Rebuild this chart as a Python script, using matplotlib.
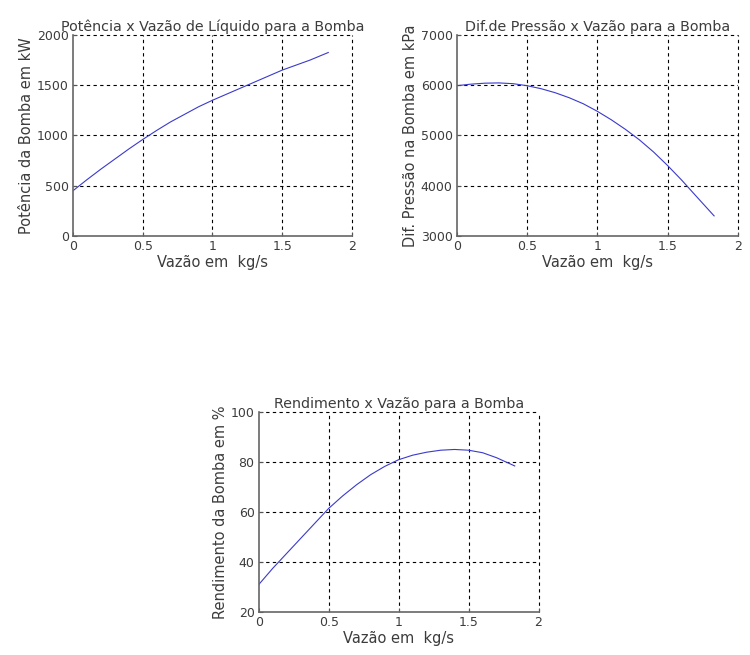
import matplotlib.pyplot as plt

plt.rcParams['font.family'] = ['DejaVu Sans']
plt.rcParams['font.size'] = 9
plt.rcParams['text.color'] = '#3c3c3c'
plt.rcParams['axes.labelcolor'] = '#3c3c3c'
plt.rcParams['xtick.labelcolor'] = '#3c3c3c'
plt.rcParams['ytick.labelcolor'] = '#3c3c3c'

# vazao (kg/s) e curvas da bomba
vazao = [0.0, 0.1, 0.2, 0.3, 0.4, 0.5, 0.6, 0.7, 0.8, 0.9, 1.0, 1.1, 1.2,
         1.3, 1.4, 1.5, 1.6, 1.7, 1.83]
potencia = [450, 560, 665, 765, 865, 960, 1050, 1135, 1210, 1285, 1350, 1410,
            1470, 1530, 1590, 1650, 1700, 1750, 1825]
dif_pressao = [5990, 6020, 6040, 6045, 6030, 5990, 5930, 5850, 5750, 5630,
               5480, 5310, 5120, 4910, 4670, 4400, 4110, 3800, 3400]
rendimento = [31, 37.5, 43.5, 49.5, 55.5, 61.5, 66.5, 71, 75, 78.3, 81,
              82.8, 84, 84.8, 85.1, 84.8, 83.8, 81.8, 78.5]

xticks = [0, 0.5, 1, 1.5, 2]

fig = plt.figure(figsize=(7.5, 6.55), dpi=100)

def painel(pos, y, titulo, ylabel, ylim, yticks):
    ax = fig.add_axes(pos)
    ax.plot(vazao, y, color='#3a3acc', lw=0.8)
    ax.set_xlim(0, 2)
    ax.set_ylim(*ylim)
    ax.set_xticks(xticks)
    ax.set_xticklabels(['0', '0.5', '1', '1.5', '2'])
    ax.set_yticks(yticks)
    ax.grid(True, color='black', linestyle=(0, (3, 3)), lw=0.8)
    ax.set_axisbelow(True)
    # linhas de grade nas bordas superior/direita sem corte
    ax.get_xgridlines()[-1].set_clip_on(False)
    ax.get_ygridlines()[-1].set_clip_on(False)
    ax.get_xgridlines()[0].set_visible(False)
    ax.get_ygridlines()[0].set_visible(False)
    ax.tick_params(direction='in', length=3, pad=3, labelsize=9, color='#555555')
    ax.set_title(titulo, fontsize=10.3, pad=3)
    ax.set_xlabel('Vazão em  kg/s', fontsize=10.5, labelpad=1)
    ax.set_ylabel(ylabel, fontsize=10.5, labelpad=2)
    ax.spines[['top', 'right']].set_visible(False)
    for s in ('left', 'bottom'):
        ax.spines[s].set_color('#666666')
        ax.spines[s].set_linewidth(1.2)
    return ax

painel([0.0973, 0.6397, 0.372, 0.307], potencia,
       'Potência x Vazão de Líquido para a Bomba', 'Potência da Bomba em kW',
       (0, 2000), [0, 500, 1000, 1500, 2000])
painel([0.609, 0.6397, 0.375, 0.307], dif_pressao,
       'Dif.de Pressão x Vazão para a Bomba', 'Dif. Pressão na Bomba em kPa',
       (3000, 7000), [3000, 4000, 5000, 6000, 7000])
painel([0.345, 0.0656, 0.373, 0.305], rendimento,
       'Rendimento x Vazão para a Bomba', 'Rendimento da Bomba em %',
       (20, 100), [20, 40, 60, 80, 100])

fig.savefig('out.png', dpi=100)
